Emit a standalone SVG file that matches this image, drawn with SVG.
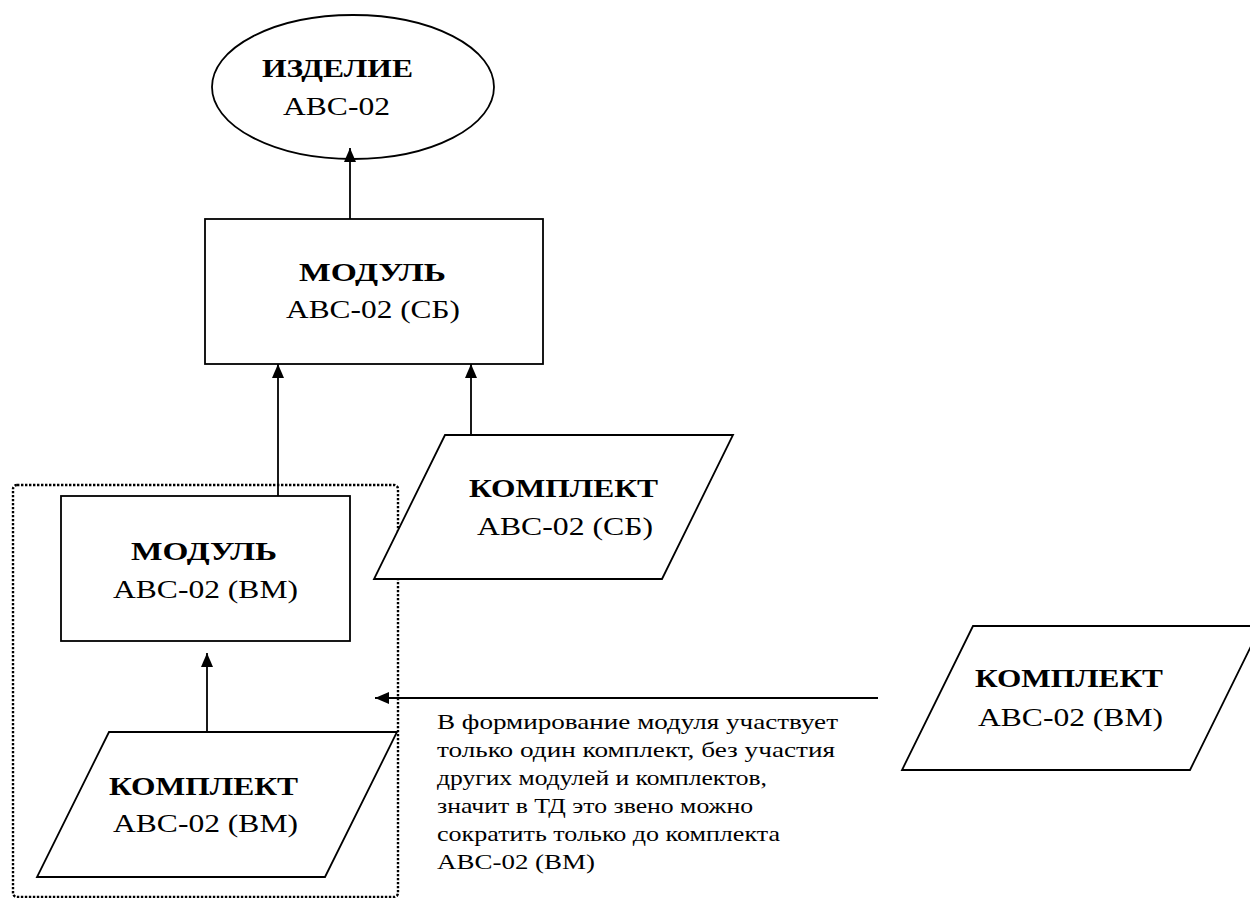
<svg xmlns="http://www.w3.org/2000/svg" width="1250" height="898" viewBox="0 0 1250 898">
  <style>
    .shape { fill: #ffffff; stroke: #000000; stroke-width: 1.8; }
    .frame { fill: none; stroke: #000000; stroke-width: 2.4; stroke-dasharray: 2.4 1.6; }
    .link { fill: none; stroke: #000000; stroke-width: 1.8; }
    .title { font-family: "Liberation Serif", "Times New Roman", serif; font-size: 26px; font-weight: bold; fill: #000000; }
    .code { font-family: "Liberation Serif", "Times New Roman", serif; font-size: 26px; fill: #000000; }
    .note { font-family: "Liberation Serif", "Times New Roman", serif; font-size: 21px; fill: #000000; }
  </style>
  <defs>
    <marker id="arrow" markerUnits="userSpaceOnUse" markerWidth="16" markerHeight="14" refX="14" refY="6" orient="auto">
      <path d="M0,0 L14,6 L0,12 Z" fill="#000000"/>
    </marker>
  </defs>
  <rect width="1250" height="898" fill="#ffffff"/>

  <!-- dotted frame around the module and its kit -->
  <rect class="frame" x="13" y="485" width="385" height="412" rx="4" ry="4"/>

  <g id="product">
    <ellipse class="shape" cx="353" cy="87" rx="141" ry="72"/>
    <text class="title" x="262" y="77" textLength="151" lengthAdjust="spacingAndGlyphs">ИЗДЕЛИЕ</text>
    <text class="code" x="283" y="115" textLength="107" lengthAdjust="spacingAndGlyphs">АВС-02</text>
  </g>

  <g id="module-sb">
    <rect class="shape" x="205" y="219" width="338" height="145"/>
    <text class="title" x="299" y="281" textLength="147" lengthAdjust="spacingAndGlyphs">МОДУЛЬ</text>
    <text class="code" x="286" y="318" textLength="174" lengthAdjust="spacingAndGlyphs">АВС-02 (СБ)</text>
  </g>

  <g id="kit-sb">
    <polygon class="shape" points="445,435 733,435 662,579 374,579"/>
    <text class="title" x="469" y="497" textLength="189" lengthAdjust="spacingAndGlyphs">КОМПЛЕКТ</text>
    <text class="code" x="477" y="535" textLength="176" lengthAdjust="spacingAndGlyphs">АВС-02 (СБ)</text>
  </g>

  <g id="module-vm">
    <rect class="shape" x="61" y="496" width="289" height="145"/>
    <text class="title" x="131" y="560" textLength="146" lengthAdjust="spacingAndGlyphs">МОДУЛЬ</text>
    <text class="code" x="113" y="598" textLength="185" lengthAdjust="spacingAndGlyphs">АВС-02 (ВМ)</text>
  </g>

  <g id="kit-vm-inner">
    <polygon class="shape" points="109,732 397,732 325,877 37,877"/>
    <text class="title" x="109" y="795" textLength="189" lengthAdjust="spacingAndGlyphs">КОМПЛЕКТ</text>
    <text class="code" x="113" y="832" textLength="185" lengthAdjust="spacingAndGlyphs">АВС-02 (ВМ)</text>
  </g>

  <g id="kit-vm">
    <polygon class="shape" points="973,626 1261,626 1190,770 902,770"/>
    <text class="title" x="975" y="687" textLength="188" lengthAdjust="spacingAndGlyphs">КОМПЛЕКТ</text>
    <text class="code" x="978" y="726" textLength="185" lengthAdjust="spacingAndGlyphs">АВС-02 (ВМ)</text>
  </g>

  <g id="note">
    <text class="note" x="437" y="729" textLength="401" lengthAdjust="spacingAndGlyphs">В формирование модуля участвует</text>
    <text class="note" x="437" y="757" textLength="398" lengthAdjust="spacingAndGlyphs">только один комплект, без участия</text>
    <text class="note" x="437" y="785" textLength="330" lengthAdjust="spacingAndGlyphs">других модулей и комплектов,</text>
    <text class="note" x="437" y="813" textLength="316" lengthAdjust="spacingAndGlyphs">значит в ТД это звено можно</text>
    <text class="note" x="437" y="841" textLength="343" lengthAdjust="spacingAndGlyphs">сократить только до комплекта</text>
    <text class="note" x="437" y="869" textLength="158" lengthAdjust="spacingAndGlyphs">АВС-02 (ВМ)</text>
  </g>

  <!-- connectors are drawn last so the arrow tip shows inside the ellipse -->
  <g id="connectors">
    <line class="link" x1="350" y1="219" x2="350" y2="148" marker-end="url(#arrow)"/>
    <line class="link" x1="278" y1="496" x2="278" y2="364" marker-end="url(#arrow)"/>
    <line class="link" x1="471" y1="435" x2="471" y2="364" marker-end="url(#arrow)"/>
    <line class="link" x1="207" y1="732" x2="207" y2="653" marker-end="url(#arrow)"/>
    <line class="link" x1="878" y1="698" x2="375" y2="698" marker-end="url(#arrow)"/>
  </g>
</svg>
